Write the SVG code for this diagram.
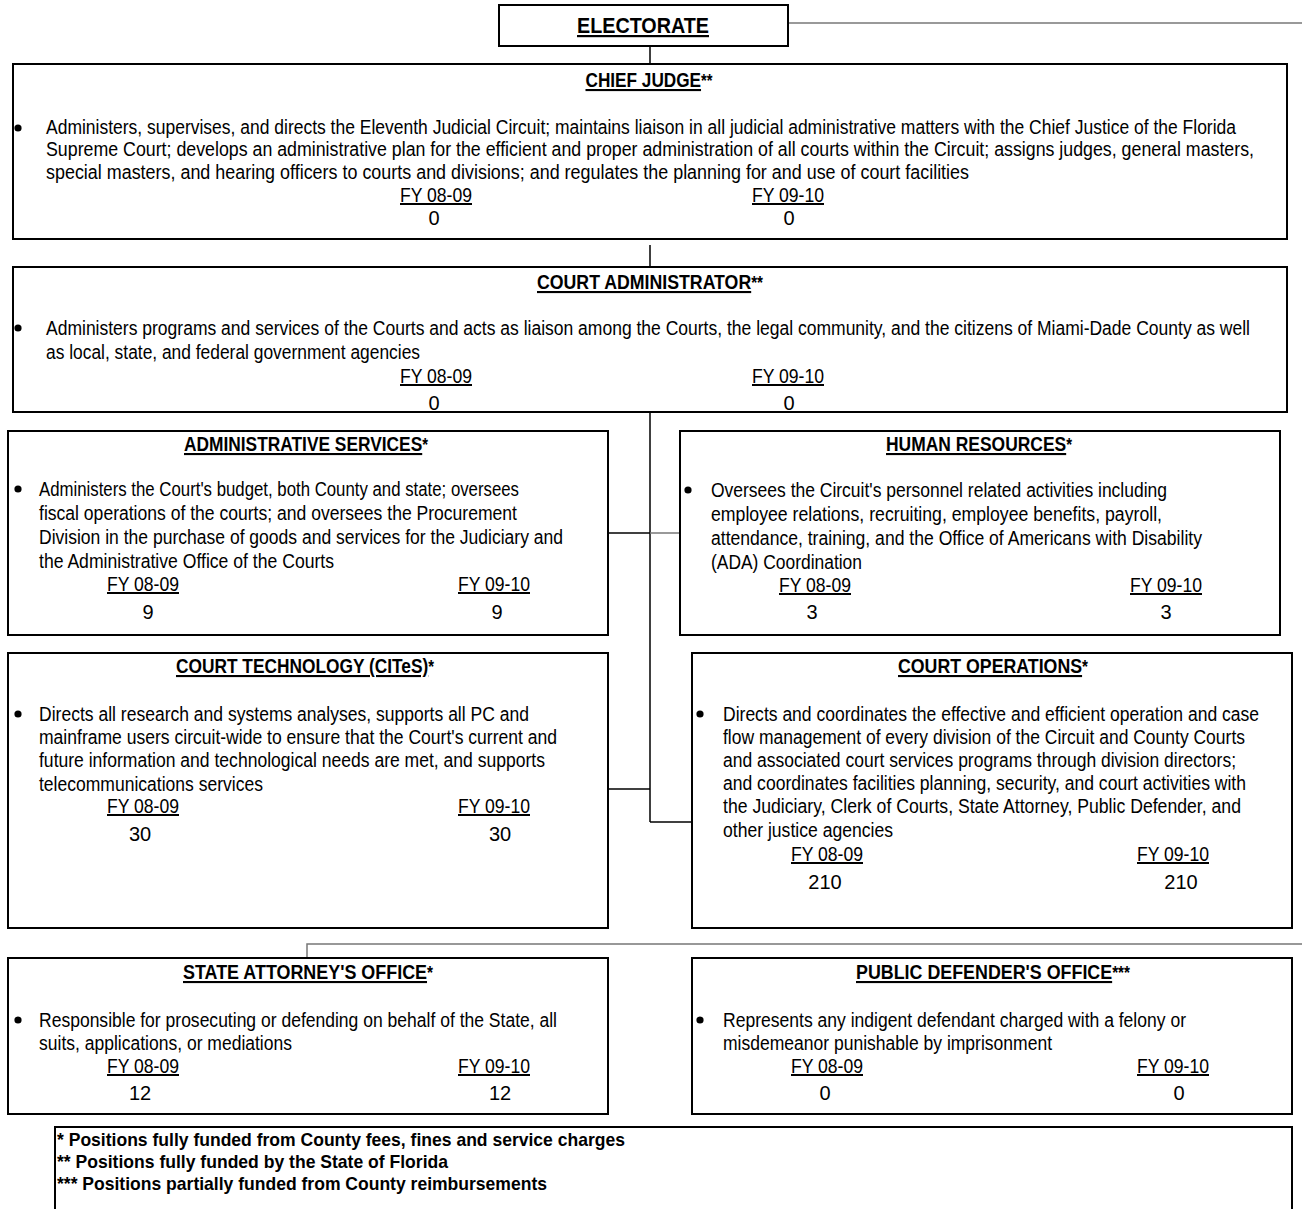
<svg xmlns="http://www.w3.org/2000/svg" width="1302" height="1209" viewBox="0 0 1302 1209">
<style>
text{font-family:'Liberation Sans Narrow','Arial Narrow','Liberation Sans',Arial,sans-serif;fill:#000}
.box{fill:#fff;stroke:#000;stroke-width:2}
.t{font-size:21px;font-weight:bold}
.u{text-decoration:underline}
.ast{font-size:18px}
.b{font-size:20px}
.fy{font-size:20px;text-decoration:underline}
.n{font-size:20px;text-anchor:middle}
.f{font-size:19px;font-weight:bold}
.c{stroke:#000;stroke-width:1.5;fill:none}
.g{stroke:#777;stroke-width:1.5;fill:none}
</style>
<defs>
<circle id="dot" r="3.6" fill="#000"/>
</defs>

<g id="connectors">
<line class="g" x1="788" y1="23" x2="1302" y2="23"/>
<line class="c" x1="650" y1="46" x2="650" y2="64"/>
<line class="c" x1="650" y1="245" x2="650" y2="267"/>
<line class="c" x1="650" y1="412" x2="650" y2="822"/>
<line class="c" x1="608" y1="533" x2="650" y2="533"/>
<line class="g" x1="650" y1="533" x2="680" y2="533"/>
<line class="c" x1="608" y1="789" x2="650" y2="789"/>
<line class="c" x1="650" y1="822" x2="692" y2="822"/>
<polyline class="g" points="307,958 307,944 1302,944"/>
</g>

<g id="electorate">
<rect class="box" x="499" y="5" width="289" height="41"/>
<text class="u" x="643" y="33" font-size="22" font-weight="bold" text-anchor="middle" textLength="132" lengthAdjust="spacingAndGlyphs">ELECTORATE</text>
</g>

<g id="chief-judge">
<rect class="box" x="13" y="64" width="1274" height="175"/>
<text class="t" x="649" y="87" text-anchor="middle" textLength="127" lengthAdjust="spacingAndGlyphs"><tspan class="u">CHIEF JUDGE</tspan><tspan class="ast">**</tspan></text>
<use href="#dot" x="18" y="128"/>
<text class="b" x="46" y="134" textLength="1190" lengthAdjust="spacingAndGlyphs">Administers, supervises, and directs the Eleventh Judicial Circuit; maintains liaison in all judicial administrative matters with the Chief Justice of the Florida</text>
<text class="b" x="46" y="156" textLength="1208" lengthAdjust="spacingAndGlyphs">Supreme Court; develops an administrative plan for the efficient and proper administration of all courts within the Circuit; assigns judges, general masters,</text>
<text class="b" x="46" y="179" textLength="923" lengthAdjust="spacingAndGlyphs">special masters, and hearing officers to courts and divisions; and regulates the planning for and use of court facilities</text>
<text class="fy" x="400" y="202" textLength="72" lengthAdjust="spacingAndGlyphs">FY 08-09</text>
<text class="fy" x="752" y="202" textLength="72" lengthAdjust="spacingAndGlyphs">FY 09-10</text>
<text class="n" x="434" y="225">0</text>
<text class="n" x="789" y="225">0</text>
</g>

<g id="court-administrator">
<rect class="box" x="13" y="267" width="1274" height="145"/>
<text class="t" x="650" y="289" text-anchor="middle" textLength="226" lengthAdjust="spacingAndGlyphs"><tspan class="u">COURT ADMINISTRATOR</tspan><tspan class="ast">**</tspan></text>
<use href="#dot" x="18" y="328"/>
<text class="b" x="46" y="335" textLength="1204" lengthAdjust="spacingAndGlyphs">Administers programs and services of the Courts and acts as liaison among the Courts, the legal community, and the citizens of Miami-Dade County as well</text>
<text class="b" x="46" y="359" textLength="374" lengthAdjust="spacingAndGlyphs">as local, state, and federal government agencies</text>
<text class="fy" x="400" y="383" textLength="72" lengthAdjust="spacingAndGlyphs">FY 08-09</text>
<text class="fy" x="752" y="383" textLength="72" lengthAdjust="spacingAndGlyphs">FY 09-10</text>
<text class="n" x="434" y="410">0</text>
<text class="n" x="789" y="410">0</text>
</g>

<g id="administrative-services">
<rect class="box" x="8" y="431" width="600" height="204"/>
<text class="t" x="306" y="451" text-anchor="middle" textLength="244" lengthAdjust="spacingAndGlyphs"><tspan class="u">ADMINISTRATIVE SERVICES</tspan><tspan class="ast">*</tspan></text>
<use href="#dot" x="18" y="489"/>
<text class="b" x="39" y="496" textLength="480" lengthAdjust="spacingAndGlyphs">Administers the Court's budget, both County and state; oversees</text>
<text class="b" x="39" y="520" textLength="478" lengthAdjust="spacingAndGlyphs">fiscal operations of the courts; and oversees the Procurement</text>
<text class="b" x="39" y="544" textLength="524" lengthAdjust="spacingAndGlyphs">Division in the purchase of goods and services for the Judiciary and</text>
<text class="b" x="39" y="568" textLength="295" lengthAdjust="spacingAndGlyphs">the Administrative Office of the Courts</text>
<text class="fy" x="107" y="591" textLength="72" lengthAdjust="spacingAndGlyphs">FY 08-09</text>
<text class="fy" x="458" y="591" textLength="72" lengthAdjust="spacingAndGlyphs">FY 09-10</text>
<text class="n" x="148" y="619">9</text>
<text class="n" x="497" y="619">9</text>
</g>

<g id="human-resources">
<rect class="box" x="680" y="431" width="600" height="204"/>
<text class="t" x="979" y="451" text-anchor="middle" textLength="186" lengthAdjust="spacingAndGlyphs"><tspan class="u">HUMAN RESOURCES</tspan><tspan class="ast">*</tspan></text>
<use href="#dot" x="688" y="490"/>
<text class="b" x="711" y="497" textLength="456" lengthAdjust="spacingAndGlyphs">Oversees the Circuit's personnel related activities including</text>
<text class="b" x="711" y="521" textLength="451" lengthAdjust="spacingAndGlyphs">employee relations, recruiting, employee benefits, payroll,</text>
<text class="b" x="711" y="545" textLength="491" lengthAdjust="spacingAndGlyphs">attendance, training, and the Office of Americans with Disability</text>
<text class="b" x="711" y="569" textLength="151" lengthAdjust="spacingAndGlyphs">(ADA) Coordination</text>
<text class="fy" x="779" y="592" textLength="72" lengthAdjust="spacingAndGlyphs">FY 08-09</text>
<text class="fy" x="1130" y="592" textLength="72" lengthAdjust="spacingAndGlyphs">FY 09-10</text>
<text class="n" x="812" y="619">3</text>
<text class="n" x="1166" y="619">3</text>
</g>

<g id="court-technology">
<rect class="box" x="8" y="653" width="600" height="275"/>
<text class="t" x="305" y="673" text-anchor="middle" textLength="258" lengthAdjust="spacingAndGlyphs"><tspan class="u">COURT TECHNOLOGY (CITeS)</tspan><tspan class="ast">*</tspan></text>
<use href="#dot" x="18" y="714"/>
<text class="b" x="39" y="721" textLength="490" lengthAdjust="spacingAndGlyphs">Directs all research and systems analyses, supports all PC and</text>
<text class="b" x="39" y="744" textLength="518" lengthAdjust="spacingAndGlyphs">mainframe users circuit-wide to ensure that the Court's current and</text>
<text class="b" x="39" y="767" textLength="506" lengthAdjust="spacingAndGlyphs">future information and technological needs are met, and supports</text>
<text class="b" x="39" y="791" textLength="224" lengthAdjust="spacingAndGlyphs">telecommunications services</text>
<text class="fy" x="107" y="813" textLength="72" lengthAdjust="spacingAndGlyphs">FY 08-09</text>
<text class="fy" x="458" y="813" textLength="72" lengthAdjust="spacingAndGlyphs">FY 09-10</text>
<text class="n" x="140" y="841">30</text>
<text class="n" x="500" y="841">30</text>
</g>

<g id="court-operations">
<rect class="box" x="692" y="653" width="600" height="275"/>
<text class="t" x="993" y="673" text-anchor="middle" textLength="190" lengthAdjust="spacingAndGlyphs"><tspan class="u">COURT OPERATIONS</tspan><tspan class="ast">*</tspan></text>
<use href="#dot" x="700" y="714"/>
<text class="b" x="723" y="721" textLength="536" lengthAdjust="spacingAndGlyphs">Directs and coordinates the effective and efficient operation and case</text>
<text class="b" x="723" y="744" textLength="522" lengthAdjust="spacingAndGlyphs">flow management of every division of the Circuit and County Courts</text>
<text class="b" x="723" y="767" textLength="513" lengthAdjust="spacingAndGlyphs">and associated court services programs through division directors;</text>
<text class="b" x="723" y="790" textLength="523" lengthAdjust="spacingAndGlyphs">and coordinates facilities planning, security, and court activities with</text>
<text class="b" x="723" y="813" textLength="518" lengthAdjust="spacingAndGlyphs">the Judiciary, Clerk of Courts, State Attorney, Public Defender, and</text>
<text class="b" x="723" y="837" textLength="170" lengthAdjust="spacingAndGlyphs">other justice agencies</text>
<text class="fy" x="791" y="861" textLength="72" lengthAdjust="spacingAndGlyphs">FY 08-09</text>
<text class="fy" x="1137" y="861" textLength="72" lengthAdjust="spacingAndGlyphs">FY 09-10</text>
<text class="n" x="825" y="889">210</text>
<text class="n" x="1181" y="889">210</text>
</g>

<g id="state-attorney">
<rect class="box" x="8" y="958" width="600" height="156"/>
<text class="t" x="308" y="979" text-anchor="middle" textLength="250" lengthAdjust="spacingAndGlyphs"><tspan class="u">STATE ATTORNEY'S OFFICE</tspan><tspan class="ast">*</tspan></text>
<use href="#dot" x="18" y="1020"/>
<text class="b" x="39" y="1027" textLength="518" lengthAdjust="spacingAndGlyphs">Responsible for prosecuting or defending on behalf of the State, all</text>
<text class="b" x="39" y="1050" textLength="253" lengthAdjust="spacingAndGlyphs">suits, applications, or mediations</text>
<text class="fy" x="107" y="1073" textLength="72" lengthAdjust="spacingAndGlyphs">FY 08-09</text>
<text class="fy" x="458" y="1073" textLength="72" lengthAdjust="spacingAndGlyphs">FY 09-10</text>
<text class="n" x="140" y="1100">12</text>
<text class="n" x="500" y="1100">12</text>
</g>

<g id="public-defender">
<rect class="box" x="692" y="958" width="600" height="156"/>
<text class="t" x="993" y="979" text-anchor="middle" textLength="274" lengthAdjust="spacingAndGlyphs"><tspan class="u">PUBLIC DEFENDER'S OFFICE</tspan><tspan class="ast">***</tspan></text>
<use href="#dot" x="700" y="1020"/>
<text class="b" x="723" y="1027" textLength="463" lengthAdjust="spacingAndGlyphs">Represents any indigent defendant charged with a felony or</text>
<text class="b" x="723" y="1050" textLength="329" lengthAdjust="spacingAndGlyphs">misdemeanor punishable by imprisonment</text>
<text class="fy" x="791" y="1073" textLength="72" lengthAdjust="spacingAndGlyphs">FY 08-09</text>
<text class="fy" x="1137" y="1073" textLength="72" lengthAdjust="spacingAndGlyphs">FY 09-10</text>
<text class="n" x="825" y="1100">0</text>
<text class="n" x="1179" y="1100">0</text>
</g>

<g id="legend">
<rect class="box" x="55" y="1127" width="1237" height="100"/>
<text class="f" x="57" y="1146" textLength="568" lengthAdjust="spacingAndGlyphs">* Positions fully funded from County fees, fines and service charges</text>
<text class="f" x="57" y="1168" textLength="391" lengthAdjust="spacingAndGlyphs">** Positions fully funded by the State of Florida</text>
<text class="f" x="57" y="1190" textLength="490" lengthAdjust="spacingAndGlyphs">*** Positions partially funded from County reimbursements</text>
</g>
</svg>
